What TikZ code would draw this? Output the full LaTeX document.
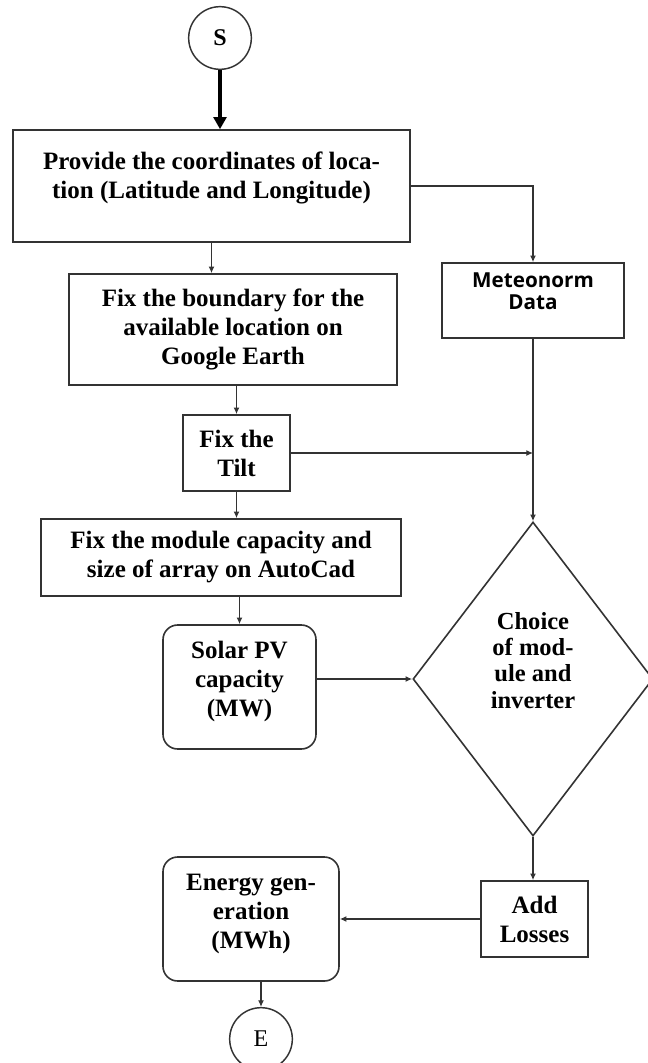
\documentclass[tikz,border=0pt]{standalone}
\usepackage{fontspec}
\setmainfont{Liberation Serif}
\newfontfamily\opensans{Open Sans}
\usetikzlibrary{shapes.geometric,arrows.meta,calc}
\definecolor{ln}{HTML}{333333}
\begin{document}
\begin{tikzpicture}[x=0.75pt,y=-0.75pt,
  box/.style={draw=ln, line width=1.2pt, align=center, inner sep=0pt,
    font=\fontsize{18.75}{21.75}\selectfont\bfseries},
  rbox/.style={box, rounded corners=11pt},
  arr/.style={draw=ln, line width=0.95pt, -{Latex[length=5pt,width=4.5pt]}},
  thickarr/.style={draw=black, line width=2.6pt, -{Triangle[length=9pt,width=9.5pt]}},
  term/.style={circle, draw=ln, line width=1.1pt, minimum size=47pt, inner sep=0pt}
]
\useasboundingbox (0,0) rectangle (648,1063);

\node[term, font=\fontsize{18}{20}\selectfont\bfseries] (S) at (220,38) {S};

\node[box, minimum width=397*0.75pt, minimum height=112*0.75pt, text depth=16pt] (box1) at (211.5,186)
  {Provide the coordinates of loca-\\tion (Latitude and Longitude)};

\node[box, minimum width=182*0.75pt, minimum height=75*0.75pt, text depth=14pt,
  font=\fontsize{15.5}{16.5}\selectfont\opensans\bfseries] (meteo) at (533,300.5)
  {Meteonorm\\Data};

\node[box, minimum width=328*0.75pt, minimum height=111*0.75pt] (box2) at (233,329.5)
  {Fix the boundary for the\\available location on\\Google Earth};

\node[box, minimum width=107*0.75pt, minimum height=76*0.75pt] (tilt) at (236.5,453)
  {Fix the\\Tilt};

\node[box, minimum width=360*0.75pt, minimum height=77*0.75pt] (box4) at (221,557.5)
  {Fix the module capacity and\\size of array on AutoCad};

\node[rbox, minimum width=153*0.75pt, minimum height=124*0.75pt, text depth=12pt] (solar) at (239.5,687)
  {Solar PV\\capacity\\(MW)};

\node[diamond, draw=ln, line width=1.2pt, align=center, inner sep=0pt,
  minimum width=240*0.75pt, minimum height=314*0.75pt, text depth=28pt,
  font=\fontsize{18.4}{19.7}\selectfont\bfseries] (dia) at (533,679)
  {Choice\\of mod-\\ule and\\inverter};

\node[box, minimum width=107*0.75pt, minimum height=76*0.75pt] (add) at (534.5,919)
  {Add\\Losses};

\node[rbox, minimum width=176*0.75pt, minimum height=124*0.75pt, text depth=12pt] (energy) at (251,919)
  {Energy gen-\\eration\\(MWh)};

\node[term, font=\fontsize{18}{20}\selectfont] (E) at (261,1039) {E};

% connectors
\draw[thickarr] (S.south) -- (S.south |- box1.north);
\draw[arr] (box1.east) -| (meteo.north);
\draw[arr] (box1.south) -- (box1.south |- box2.north);
\draw[arr] (tilt.north |- box2.south) -- (tilt.north);
\draw[arr] (tilt.east) -- (tilt.east -| dia.north);
\draw[arr] (meteo.south) -- (dia.north);
\draw[arr] (tilt.south) -- (tilt.south |- box4.north);
\draw[arr] (solar.north |- box4.south) -- (solar.north);
\draw[arr] (dia.west -| solar.east) -- (dia.west);
\draw[arr] (dia.south) -- (add.north -| dia.south);
\draw[arr] (add.west) -- (energy.east);
\draw[arr] (E.north |- energy.south) -- (E.north);
\end{tikzpicture}
\end{document}
